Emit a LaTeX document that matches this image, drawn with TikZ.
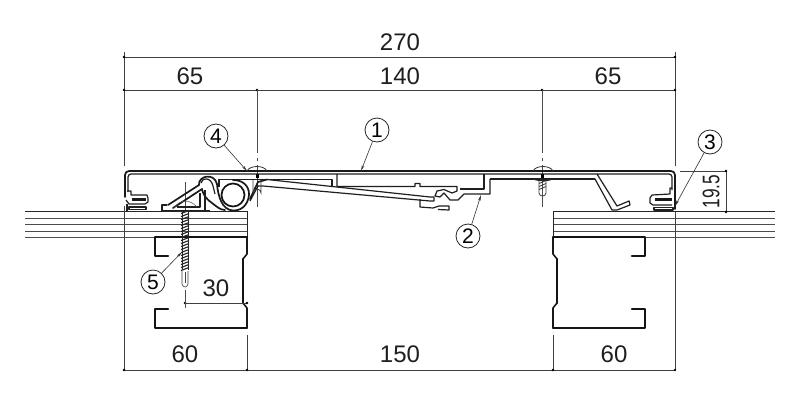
\documentclass[tikz,border=0pt]{standalone}
\usepackage{graphicx}
\usepackage{fontspec}
\setmainfont{Liberation Sans}
\usetikzlibrary{arrows.meta}
\tikzset{
  prof/.style={line width=1.7pt,line join=round,line cap=round,black!90},
  thin prof/.style={line width=1.2pt,line join=round,black!88},
  heavy/.style={line width=2.6pt,line join=round,line cap=round,black!92},
  hair/.style={line width=0.6pt,black!70},
  dim/.style={line width=0.7pt,black!75},
  panel/.style={line width=0.8pt,black!70},
  dimtext/.style={font=\fontsize{24}{24}\selectfont,text=black!88,inner sep=0pt},
  callout/.style={circle,draw=black!85,line width=0.8pt,minimum size=24pt,inner sep=0pt,font=\fontsize{21}{21}\selectfont,fill=white},
  lead/.style={line width=0.6pt,black!80,-{Stealth[length=6pt,width=2.5pt]}},
  dot/.style={circle,fill=black,inner sep=0pt,minimum size=2.6pt}
}
\begin{document}
\begin{tikzpicture}[x=1pt,y=-1pt]
\useasboundingbox (0,0) rectangle (800,400);
\fill[white] (0,0) rectangle (800,400);

% panels
\foreach \yy in {218,224,231,237}{
  \draw[panel] (25,\yy) -- (247,\yy);
  \draw[panel] (553,\yy) -- (775,\yy);
}
\draw[line width=1pt,black!85] (25,211) -- (247,211) -- (247,237);
\draw[line width=1pt,black!85] (775,211) -- (553,211) -- (553,237);

% channels
\draw[heavy] (168,256) -- (155,256) -- (155,237) -- (247,237);
\draw[heavy] (247,328) -- (155,328) -- (155,309) -- (168,309);
\draw[line width=1.6pt,black!90,line join=round] (247,237) -- (247,254) -- (243,259);
\draw[heavy] (243,259) -- (243,303);
\draw[line width=1.6pt,black!90,line join=round] (243,303) -- (247,308) -- (247,328);
\draw[heavy] (632,256) -- (645,256) -- (645,237) -- (553,237);
\draw[heavy] (553,328) -- (645,328) -- (645,309) -- (632,309);
\draw[line width=1.6pt,black!90,line join=round] (553,237) -- (553,254) -- (557,259);
\draw[heavy] (557,259) -- (557,303);
\draw[line width=1.6pt,black!90,line join=round] (557,303) -- (553,308) -- (553,328);

% dimension lines
\draw[dim] (124,57) -- (675,57);
\draw[dim] (124,90) -- (675,90);
\draw[dim] (124,370) -- (675,370);
\draw[dim] (124,52) -- (124,166);
\draw[dim] (675,52) -- (675,166);
\draw[dim] (124,206) -- (124,370);
\draw[dim] (675,212) -- (675,370);
\draw[dim] (247,335) -- (247,370);
\draw[dim] (553,335) -- (553,370);
\draw[dim] (680,171) -- (726,171);
\draw[dim] (726,171) -- (726,212);
\draw[dim] (185,303) -- (247,303);
\foreach \p in {(124,57),(675,57),(124,90),(257,90),(542,90),(675,90),(124,370),(247,370),(553,370),(675,370),(726,171),(726,212),(185,303),(247,303)}
  \node[dot] at \p {};

% center lines
\draw[hair] (257,90) -- (257,153) (257,158) -- (257,161) (257,165) -- (257,207);
\draw[hair] (542,90) -- (542,153) (542,158) -- (542,161) (542,165) -- (542,207);
\draw[hair] (185,182) -- (185,212) (185,290) -- (185,308);

% dimension text
\node[dimtext] (t270) at (400,42) {270};
\node[dimtext] (t65a) at (190,76) {65};
\node[dimtext] (t140) at (400,76) {140};
\node[dimtext] (t65b) at (608,76) {65};
\node[dimtext] (t60a) at (185,354) {60};
\node[dimtext] (t150) at (400,354) {150};
\node[dimtext] (t60b) at (614,354) {60};
\node[dimtext] (t30) at (216,288) {30};
\node[dimtext,rotate=90] (t195) at (711,191.5) {\scalebox{0.72}[1]{19.5}};

% cover top sheet
\draw[prof] (125,197) -- (125,175) arc[start angle=180,end angle=270,radius=4] -- (671,171) arc[start angle=-90,end angle=0,radius=4] -- (675,209);
\draw[thin prof] (128,192) -- (128,177) arc[start angle=180,end angle=270,radius=3] -- (669,174) arc[start angle=-90,end angle=0,radius=3] -- (672,190);

% left gasket
\draw[thin prof] (127,191) -- (131,191) -- (131,195) -- (147,195) -- (148,198) -- (148,202) -- (145,204) -- (129,204) -- (126,200);
\fill[black!90] (132,198) rectangle (146,201);
\draw[thin prof] (129,207) -- (146,207) -- (146,209.5) -- (129,209.5) -- cycle;
\draw[thin prof] (127,204) -- (127,211);

% right gasket
\draw[thin prof] (672,188) -- (670,188) -- (670,194) -- (652,195) -- (650,198) -- (650,203) -- (653,205) -- (672,205);
\fill[black!90] (655,198) rectangle (672,201);
\draw[thin prof] (654,207.5) -- (673,207.5) -- (673,210) -- (654,210) -- cycle;

% right cover leg
\draw[thin prof] (557,179) -- (595,179) -- (612,210) -- (617,210) -- (630,205) -- (629,201) -- (617,206) -- (597,174);

% centre piece
\draw[thin prof] (490,179) -- (595,179);
\draw[thin prof] (337,174) -- (337,186.5) -- (415,186.5) -- (415,183.5) -- (420,183.5) -- (420,186.5) -- (457,186.5) -- (457,191) -- (452,193) -- (444,189.5) -- (437,191) -- (435,196) -- (440,197) -- (444,193) -- (450,200) -- (458,200) -- (464,194) -- (490,194) -- (490,179);
\draw[thin prof] (484,174) -- (484,189) -- (460,189);
\draw[thin prof] (420,199) -- (420,207) -- (433,208) -- (439,206) -- (449,206) -- (449,210) -- (438,209.5);

% spring arm and box
\draw[thin prof] (219,187) -- (219,179.5) -- (332,179.5) -- (332,186);
\fill[white] (267,179.8) -- (337,187) -- (337,194) -- (262,186.5) -- cycle;
\draw[thin prof] (267,179.5) -- (430,197) -- (434,197) -- (434,201) -- (430,201) -- (263,186) -- (258,186) -- (250,201);

% spring with roller
\draw[line width=1.7pt,black!92,fill=white] (233,195) circle (11.5);
\draw[prof] (168,205) -- (199,185) .. controls (198,176) and (214,172) .. (217,184) .. controls (218,196) and (222,210) .. (233,210.5) .. controls (245,211) and (249,200) .. (249,194) .. controls (249,186) and (243,180) .. (233,180);
\draw[prof] (250,199) -- (258,182) -- (267,179.5);
\draw[prof] (173,208) -- (202,189) .. controls (203,194) and (205,198) .. (212,203) .. controls (216,206) and (220,210) .. (225,210);
\draw[thin prof] (201,183) .. controls (202,177) and (211,177) .. (213,186) -- (215,194);

% base clip
\draw[thin prof] (162,211) -- (162,205) -- (167,205);
\draw[thin prof] (162,210.5) -- (210,210.5);
\draw[thin prof] (205,210) -- (205,190);
\draw[thin prof] (177,207) -- (200,207) -- (200,193);
\draw[line width=0.5pt,black!70] (174,208) .. controls (180,199) and (190,199) .. (197,207);

% screw heads
\draw[line width=0.8pt,black!80] (247,171) .. controls (250,165) and (264,165) .. (267,171);
\draw[line width=0.8pt,black!80] (533,171) .. controls (536,165) and (550,165) .. (553,171);
\fill[black] (255.5,174) rectangle (258.5,178);
\fill[black] (541,174) rectangle (544,178);
\draw[line width=0.8pt,black!75] (253,180) -- (253,193) arc[start angle=180,end angle=360,radius=4] -- (261,180);
\draw[line width=1.2pt,black!85] (534,179) .. controls (536,181) and (550,181) .. (552,179);
\draw[line width=0.8pt,black!75] (539,181) -- (539,193) .. controls (539,197) and (546,197) .. (546,193) -- (546,181);
\foreach \yy in {182,185,188}
  \draw[line width=0.8pt,black!80] (539,\yy+1.5) -- (546,\yy-1.5);

% fixing screw
\foreach \yy in {212,215,...,270}
  \draw[line width=1.1pt,black!85] (181,\yy+1.5) -- (189,\yy-1.5);
\draw[line width=0.7pt,black!85] (182,212) -- (182,270) (188,212) -- (188,270);
\draw[line width=0.6pt,black!75] (182,271) -- (182,284) .. controls (183,288) and (187,288) .. (188,284) -- (188,271);
\draw[line width=0.6pt,black!75] (185,272) -- (185,283);

% callouts
\node[callout] (c1) at (377,130) {1};
\node[callout] (c2) at (468,236) {2};
\node[callout] (c3) at (710,142) {3};
\node[callout] (c4) at (216,136) {4};
\node[callout] (c5) at (153,282) {5};
\coordinate (a1) at (361,171);
\coordinate (a2) at (481,195);
\coordinate (a3) at (675,206);
\coordinate (a4) at (247,171);
\coordinate (a5) at (182,252);
\draw[lead] (c1) -- (a1);
\draw[lead] (c2) -- (a2);
\draw[lead] (c3) -- (a3);
\draw[lead] (c4) -- (a4);
\draw[lead] (c5) -- (a5);
\end{tikzpicture}
\end{document}
